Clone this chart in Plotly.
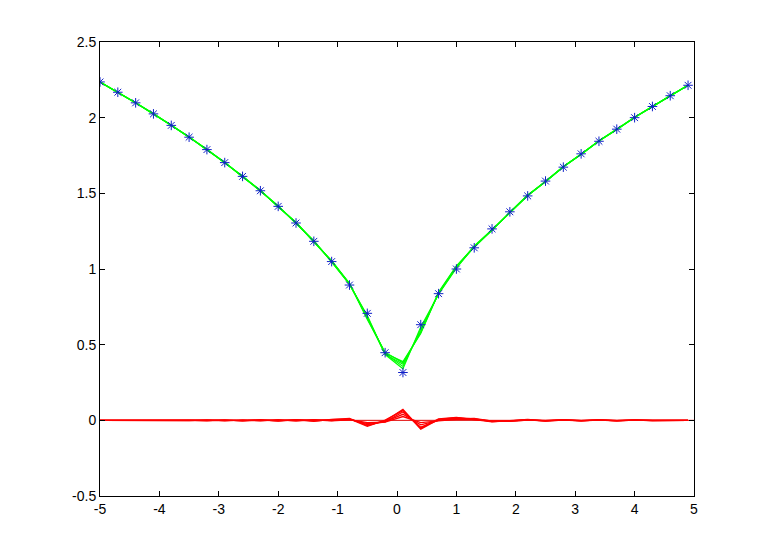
import plotly.graph_objects as go

# sample locations and observed values (blue asterisks)
x_pts = [-5.0, -4.7, -4.4, -4.1, -3.8, -3.5, -3.2, -2.9, -2.6, -2.3, -2.0, -1.7, -1.4, -1.1,
         -0.8, -0.5, -0.2, 0.1, 0.4, 0.7, 1.0, 1.3, 1.6, 1.9, 2.2, 2.5, 2.8, 3.1, 3.4, 3.7,
         4.0, 4.3, 4.6, 4.9]
y_pts = [2.236, 2.168, 2.098, 2.025, 1.949, 1.871, 1.789, 1.703, 1.612, 1.517, 1.414, 1.304,
         1.183, 1.049, 0.894, 0.707, 0.447, 0.316, 0.632, 0.837, 1.000, 1.140, 1.265, 1.378,
         1.483, 1.581, 1.673, 1.761, 1.844, 1.924, 2.000, 2.074, 2.145, 2.214]

# fitted curves (green)
fit_1 = [2.236, 2.168, 2.098, 2.026, 1.947, 1.873, 1.787, 1.706, 1.609, 1.520, 1.410, 1.309,
         1.180, 1.053, 0.906, 0.672, 0.443, 0.388, 0.574, 0.843, 1.018, 1.150, 1.257, 1.375,
         1.487, 1.577, 1.676, 1.758, 1.846, 1.922, 2.002, 2.073, 2.145, 2.214]
fit_2 = [2.236, 2.168, 2.098, 2.024, 1.951, 1.869, 1.792, 1.701, 1.614, 1.514, 1.417, 1.300,
         1.188, 1.047, 0.902, 0.679, 0.437, 0.371, 0.587, 0.839, 1.014, 1.146, 1.260, 1.372,
         1.485, 1.579, 1.677, 1.759, 1.847, 1.921, 2.001, 2.074, 2.145, 2.214]
fit_3 = [2.236, 2.168, 2.099, 2.025, 1.948, 1.874, 1.788, 1.705, 1.608, 1.519, 1.412, 1.307,
         1.177, 1.055, 0.904, 0.667, 0.449, 0.380, 0.580, 0.847, 1.020, 1.144, 1.255, 1.376,
         1.489, 1.578, 1.675, 1.757, 1.848, 1.923, 2.003, 2.072, 2.146, 2.214]
fit_4 = [2.236, 2.168, 2.098, 2.027, 1.948, 1.872, 1.786, 1.704, 1.610, 1.521, 1.409, 1.308,
         1.181, 1.052, 0.900, 0.685, 0.439, 0.356, 0.602, 0.837, 1.010, 1.152, 1.259, 1.374,
         1.486, 1.576, 1.674, 1.759, 1.846, 1.922, 2.001, 2.073, 2.145, 2.214]
fit_5 = [2.236, 2.168, 2.098, 2.023, 1.950, 1.870, 1.791, 1.700, 1.615, 1.515, 1.418, 1.301,
         1.187, 1.045, 0.898, 0.692, 0.435, 0.341, 0.617, 0.833, 1.006, 1.148, 1.262, 1.373,
         1.484, 1.580, 1.676, 1.760, 1.845, 1.921, 2.002, 2.074, 2.144, 2.214]

# error curves (red)
err_1 = [0, 0, 0, 0.001, -0.002, 0.002, -0.002, 0.003, -0.003, 0.003, -0.004, 0.005, -0.003,
         0.004, 0.012, -0.035, -0.004, 0.072, -0.058, 0.006, 0.018, 0.010, -0.008, -0.003,
         0.004, -0.004, 0.003, -0.003, 0.002, -0.002, 0.002, -0.001, 0, 0]
err_2 = [0, 0, 0, -0.001, 0.002, -0.002, 0.003, -0.002, 0.002, -0.003, 0.003, -0.004, 0.005,
         -0.002, 0.008, -0.028, -0.010, 0.055, -0.045, 0.002, 0.014, 0.006, -0.005, -0.006,
         0.002, -0.002, 0.004, -0.002, 0.003, -0.003, 0.001, 0, 0, 0]
err_3 = [0, 0, 0.001, 0, -0.001, 0.003, -0.001, 0.002, -0.004, 0.002, -0.002, 0.003, -0.006,
         0.006, 0.010, -0.040, 0.002, 0.064, -0.052, 0.010, 0.020, 0.004, -0.010, -0.002,
         0.006, -0.003, 0.002, -0.004, 0.004, -0.001, 0.003, -0.002, 0.001, 0]
err_4 = [0, 0, 0, 0.002, -0.001, 0.001, -0.003, 0.001, -0.002, 0.004, -0.005, 0.004, -0.002,
         0.003, 0.006, -0.022, -0.008, 0.040, -0.030, 0.000, 0.010, 0.012, -0.006, -0.004,
         0.003, -0.005, 0.001, -0.002, 0.002, -0.002, 0.001, -0.001, 0, 0]
err_5 = [0, 0, 0, -0.002, 0.001, -0.001, 0.002, -0.003, 0.003, -0.002, 0.004, -0.003, 0.004,
         -0.004, 0.004, -0.015, -0.012, 0.025, -0.015, -0.004, 0.006, 0.008, -0.003, -0.005,
         0.001, -0.001, 0.003, -0.001, 0.001, -0.003, 0.002, 0, -0.001, 0]

# zero reference line
x_zero = [-5, 5]
y_zero = [0, 0]

x_ticks = [-5, -4, -3, -2, -1, 0, 1, 2, 3, 4, 5]
x_tick_text = ["-5", "-4", "-3", "-2", "-1", "0", "1", "2", "3", "4", "5"]
y_ticks = [-0.5, 0, 0.5, 1, 1.5, 2, 2.5]
y_tick_text = ["-0.5", "0", "0.5", "1", "1.5", "2", "2.5"]

fig = go.Figure()
for f in [fit_1, fit_2, fit_3, fit_4, fit_5]:
    fig.add_trace(go.Scatter(x=x_pts, y=f, mode="lines",
                             line=dict(color="#00ff00", width=1.2), showlegend=False))
fig.add_trace(go.Scatter(x=x_zero, y=y_zero, mode="lines",
                         line=dict(color="#e00000", width=1), showlegend=False))
for e in [err_1, err_2, err_3, err_4, err_5]:
    fig.add_trace(go.Scatter(x=x_pts, y=e, mode="lines",
                             line=dict(color="#ff0000", width=1.3), showlegend=False))
fig.add_trace(go.Scatter(x=x_pts, y=y_pts, mode="markers",
                         marker=dict(symbol="asterisk-open", size=8, color="#1020c8",
                                     line=dict(color="#1020c8", width=1)),
                         showlegend=False))

axis_common = dict(showgrid=False, zeroline=False, showline=True, linecolor="black",
                   linewidth=1, mirror="ticks", ticks="inside", ticklen=5,
                   tickcolor="black", tickfont=dict(family="Liberation Sans, Arial",
                                                    size=14, color="black"))
fig.update_xaxes(range=[-5, 5], tickvals=x_ticks, ticktext=x_tick_text, **axis_common)
fig.update_yaxes(range=[-0.5, 2.5], tickvals=y_ticks, ticktext=y_tick_text, **axis_common)

fig.update_layout(width=759, height=549, plot_bgcolor="white", paper_bgcolor="white",
                  margin=dict(l=92, r=73, t=34, b=61))

fig.write_html("out.html")
